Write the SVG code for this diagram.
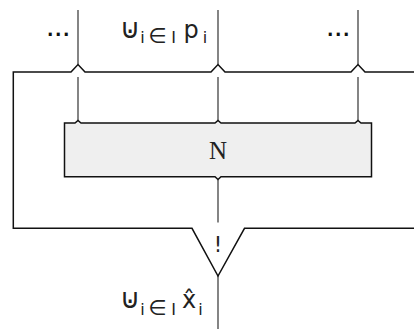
<svg xmlns="http://www.w3.org/2000/svg" width="414" height="329" viewBox="0 0 414 329">
<style>
.w{fill:none;stroke:#222;stroke-width:1.1}
.f{fill:none;stroke:#111;stroke-width:1.5;stroke-linejoin:miter}
.box{fill:#efefef;stroke:#111;stroke-width:1.5}
.t{font-family:"DejaVu Sans",sans-serif;fill:#222}
.u{font-size:28px}
.m{font-size:24px}
.s{font-size:16px}
.e{font-size:21px}
.d{font-family:"DejaVu Sans",sans-serif;font-weight:bold;font-size:17px;fill:#111;letter-spacing:1.6px}
.n{font-family:"Liberation Serif",serif;font-size:25px;fill:#222}
</style>
<rect width="414" height="329" fill="#fff"/>
<g id="connectors">
<path class="w" d="M78 10V64.5M78 77V120.5M218 10V64.5M218 77V120.5M358 10V64.5M358 77V120.5"/>
<path class="w" d="M218 179.5V222.5M218 276V329"/>
<path class="f" d="M414 72H365L358 64.5L351 72H225L218 64.5L211 72H85L78 64.5L71 72H13.3V228.3H192L218 276L244.5 228.3H414"/>
</g>
<g id="node-N">
<path class="box" d="M64.5 123H75L78 120.5L81 123H215L218 120.5L221 123H355L358 120.5L361 123H371.5V176.7H221L218 179.5L215 176.7H64.5Z"/>
<text class="n" x="218" y="159" text-anchor="middle">N</text>
</g>
<g id="node-merge">
<text class="t" x="218" y="252" font-size="21" text-anchor="middle">!</text>
</g>
<g id="label-top">
<text class="d" x="59" y="36" text-anchor="middle">...</text>
<text class="d" x="339" y="36" text-anchor="middle">...</text>
<text class="t u" x="130" y="38" text-anchor="middle">⊍</text>
<text class="t s" y="43" text-anchor="middle"><tspan x="142.5">i</tspan><tspan class="e" x="157.5">∈</tspan><tspan x="173.5">I</tspan></text>
<text class="t m" x="191" y="38" text-anchor="middle">p</text>
<text class="t s" x="205" y="43" text-anchor="middle">i</text>
</g>
<g id="label-bottom">
<text class="t u" x="130" y="308" text-anchor="middle">⊍</text>
<text class="t s" y="315" text-anchor="middle"><tspan x="142.5">i</tspan><tspan class="e" x="157.5">∈</tspan><tspan x="173.5">I</tspan></text>
<text class="t m" x="189" y="308" text-anchor="middle">x̂</text>
<text class="t s" x="200.5" y="315" text-anchor="middle">i</text>
</g>
</svg>
